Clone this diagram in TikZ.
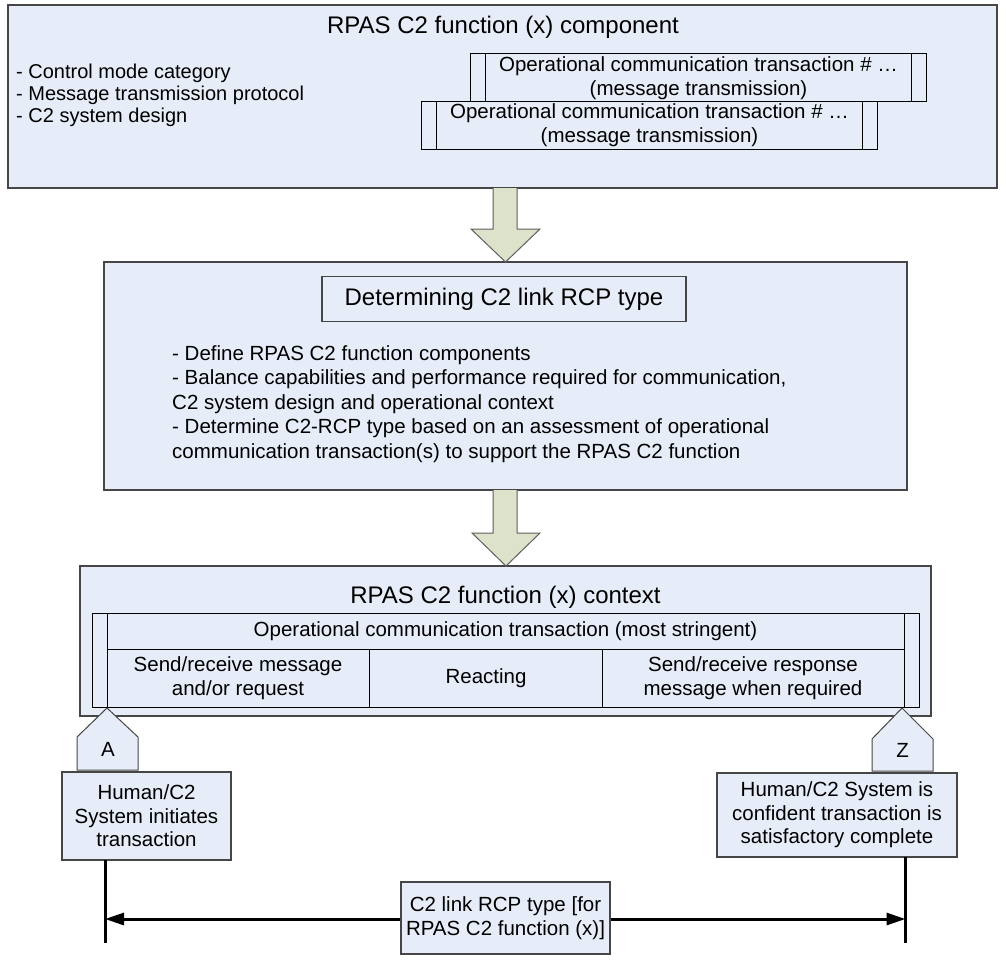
\documentclass[tikz,border=0pt]{standalone}
\usepackage{fontspec}
\setmainfont{Liberation Sans}
\usetikzlibrary{calc,arrows.meta}
\definecolor{boxfill}{RGB}{231,237,248}
\definecolor{boxline}{RGB}{70,70,70}
\definecolor{arrowfill}{RGB}{221,226,203}
\definecolor{arrowline}{RGB}{95,95,95}

\begin{document}
\begin{tikzpicture}[x=1pt,y=-1pt,
  panel/.style={draw=boxline, line width=1.2pt, fill=boxfill, inner sep=0pt, outer sep=0pt},
  framebox/.style={draw=black, line width=1pt, fill=boxfill, inner sep=0pt, outer sep=0pt},
  lbl/.style={inner sep=0pt, align=center, font=\fontsize{20.5}{23.5}\selectfont},
  bullets/.style={inner sep=0pt, align=left, anchor=west},
  ttl/.style={inner sep=0pt, font=\fontsize{24}{28}\selectfont},
  blockfill/.style={fill=arrowfill},
  blockedge/.style={draw=arrowline, line width=1pt, line join=miter},
  rail/.style={line width=3pt, draw=black},
  tip/.style={Triangle[length=19pt, width=12pt]},
]
\useasboundingbox (0,0) rectangle (1006,961);

% ---------- component panel ----------
\node[panel, minimum width=989pt, minimum height=183pt] (comp) at (502.5,96.5) {};
\node[ttl] (compttl) at (503,27) {RPAS C2 function (x) component};
\node[bullets, font=\fontsize{20}{22}\selectfont] (compitems) at (16,95)
  {- Control mode category\\- Message transmission protocol\\- C2 system design};

% stacked transaction cards
\node[framebox, minimum width=456pt, minimum height=48pt] (card1) at (698,77) {};
\draw[black, line width=1pt] ($(card1.north west)+(15,0)$) -- ($(card1.south west)+(15,0)$)
                             ($(card1.north east)+(-15,0)$) -- ($(card1.south east)+(-15,0)$);
\node[lbl] (card1txt) at (698.5,78) {Operational communication transaction \# …\\(message transmission)};

\node[framebox, minimum width=456pt, minimum height=48pt] (card2) at (649,125) {};
\draw[black, line width=1pt] ($(card2.north west)+(15,0)$) -- ($(card2.south west)+(15,0)$)
                             ($(card2.north east)+(-15,0)$) -- ($(card2.south east)+(-15,0)$);
\node[lbl] (card2txt) at (649.5,125) {Operational communication transaction \# …\\(message transmission)};

% ---------- determination panel ----------
\node[panel, minimum width=803pt, minimum height=228pt] (det) at (505.5,376) {};
\node[panel, minimum width=364pt, minimum height=45pt] (detttlbox) at (504,299) {};
\node[ttl] (detttl) at (504,299) {Determining C2 link RCP type};
\node[bullets, font=\fontsize{20.5}{24.5}\selectfont] (detitems) at (172,404)
  {- Define RPAS C2 function components\\
   - Balance capabilities and performance required for communication,\\
   C2 system design and operational context\\
   - Determine C2-RCP type based on an assessment of operational\\
   communication transaction(s) to support the RPAS C2 function};

% ---------- context panel ----------
\node[panel, minimum width=851pt, minimum height=150pt] (ctx) at (505.5,641) {};
\node[ttl] (ctxttl) at (505.5,597) {RPAS C2 function (x) context};

% transaction table
\node[framebox, minimum width=827pt, minimum height=94pt] (tbl) at (505.5,660) {};
\draw[black, line width=1pt]
  ($(tbl.north west)+(15,0)$) -- ($(tbl.south west)+(15,0)$)
  ($(tbl.north east)+(-15,0)$) -- ($(tbl.south east)+(-15,0)$)
  ($(tbl.north west)+(15,36)$) -- ($(tbl.north east)+(-15,36)$)
  ($(tbl.north west)+(277,36)$) -- ($(tbl.south west)+(277,0)$)
  ($(tbl.north west)+(510.5,36)$) -- ($(tbl.south west)+(510.5,0)$);
\node[lbl] (tblhead) at (505.5,631) {Operational communication transaction (most stringent)};
\node[lbl] (cellsend) at (238,678) {Send/receive message\\and/or request};
\node[lbl] (cellreact) at (486,678) {Reacting};
\node[lbl] (cellresp) at (753,678) {Send/receive response\\message when required};

% ---------- block arrows between panels ----------
\fill[blockfill] (493,188) -- (493,229) -- (471,229) -- (505.5,262) -- (540,229) -- (517,229) -- (517,188) -- cycle;
\draw[blockedge] (493,188) -- (493,229) -- (471,229) -- (505.5,262) -- (540,229) -- (517,229) -- (517,188);
\fill[blockfill] (493,490) -- (493,533) -- (472,533) -- (506,566) -- (540,533) -- (517,533) -- (517,490) -- cycle;
\draw[blockedge] (493,490) -- (493,533) -- (472,533) -- (506,566) -- (540,533) -- (517,533) -- (517,490);

% ---------- start / end markers ----------
\draw[panel, line width=1pt] (107,708) -- (138,737) -- (138,770) -- (77,770) -- (77,737) -- cycle;
\node[lbl] (ptA) at (108,749) {A};
\draw[panel, line width=1pt] (902,708) -- (933,739) -- (933,771) -- (872,771) -- (872,739) -- cycle;
\node[lbl] (ptZ) at (902.5,750) {Z};

\node[panel, minimum width=169pt, minimum height=88pt] (start) at (146.5,816) {};
\node[lbl] (starttxt) at (146.5,816) {Human/C2\\System initiates\\transaction};
\node[panel, minimum width=240pt, minimum height=84pt] (finish) at (837,815) {};
\node[lbl] (finishtxt) at (837,815) {Human/C2 System is\\confident transaction is\\satisfactory complete};

% ---------- time span ----------
\coordinate (railLtop) at ($(start.south west)+(43,0)$);
\coordinate (railLbot) at (105,943);
\coordinate (railRtop) at ($(finish.south west)+(188.5,0)$);
\coordinate (railRbot) at (905.5,943);
\draw[rail] (railLtop) -- (railLbot);
\draw[rail] (railRtop) -- (railRbot);
\coordinate (spanL) at (105,919);
\coordinate (spanR) at (905.5,919);
\draw[rail, {Triangle[length=19pt, width=12pt]}-{Triangle[length=19pt, width=12pt]}] (spanL) -- (spanR);
\node[panel, minimum width=209pt, minimum height=72pt] (span) at (505.5,918) {};
\node[lbl] (spantxt) at (505.5,918) {C2 link RCP type [for\\RPAS C2 function (x)]};
\end{tikzpicture}
\end{document}
